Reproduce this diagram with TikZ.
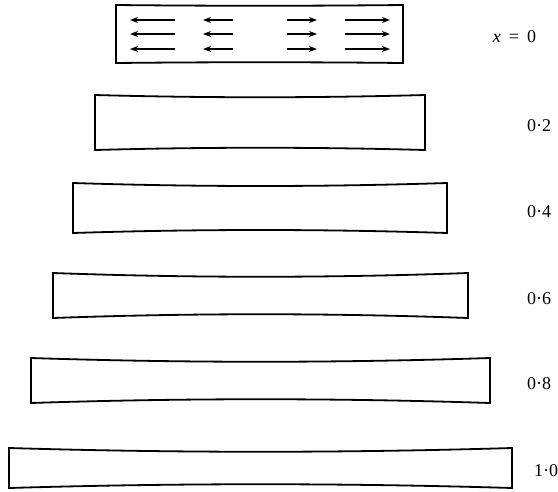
\documentclass[tikz,border=0pt]{standalone}
\usepackage{fontspec}
\setmainfont{Liberation Serif}
\usetikzlibrary{arrows.meta}
\newcommand\drawplate[5]{%
  \draw[plate] (#1,#3) .. controls ({#1+(#2-#1)/3},{#3+#5}) and ({#2-(#2-#1)/3},{#3+#5}) .. (#2,#3)
    -- (#2,#4) .. controls ({#2-(#2-#1)/3},{#4-#5}) and ({#1+(#2-#1)/3},{#4-#5}) .. (#1,#4) -- cycle;}
\begin{document}
\begin{tikzpicture}[x=1pt,y=-1pt,
  plate/.style={line width=1.8pt, line join=miter},
  lbl/.style={anchor=base west, font=\fontsize{18}{20}\selectfont, inner sep=0pt},
  flow/.style={line width=1.3pt, -{Stealth[length=8pt,width=6pt]}}]
\useasboundingbox (0,0) rectangle (558,491);
% plates
\drawplate{116}{403}{5}{63}{1}
\drawplate{95}{425}{95}{150}{3}
\drawplate{73}{447}{183}{233}{4}
\drawplate{53}{468}{273}{318}{5}
\drawplate{31}{490}{358}{403}{5}
\drawplate{9}{512}{448}{488}{5}
% flow arrows in the first plate
\foreach \yy/\n in {20/a,34/b,49/c}{
  \coordinate (l1\n) at (175,\yy); \coordinate (l1h\n) at (130,\yy);
  \coordinate (l2\n) at (233,\yy); \coordinate (l2h\n) at (203,\yy);
  \coordinate (r2\n) at (287,\yy); \coordinate (r2h\n) at (317,\yy);
  \coordinate (r1\n) at (345,\yy); \coordinate (r1h\n) at (390,\yy);
  \draw[flow] (l1\n) -- (l1h\n);
  \draw[flow] (l2\n) -- (l2h\n);
  \draw[flow] (r2\n) -- (r2h\n);
  \draw[flow] (r1\n) -- (r1h\n);
}
% labels
\node[lbl] (x0) at (527,42) {\llap{\textit{x}\hspace{0.45em}=\hspace{0.45em}}0};
\node[lbl] (x2) at (527,131) {0·2};
\node[lbl] (x4) at (527,217) {0·4};
\node[lbl] (x6) at (527,304) {0·6};
\node[lbl] (x8) at (527,389) {0·8};
\node[lbl] (x10) at (534,476) {1·0};
\end{tikzpicture}
\end{document}
